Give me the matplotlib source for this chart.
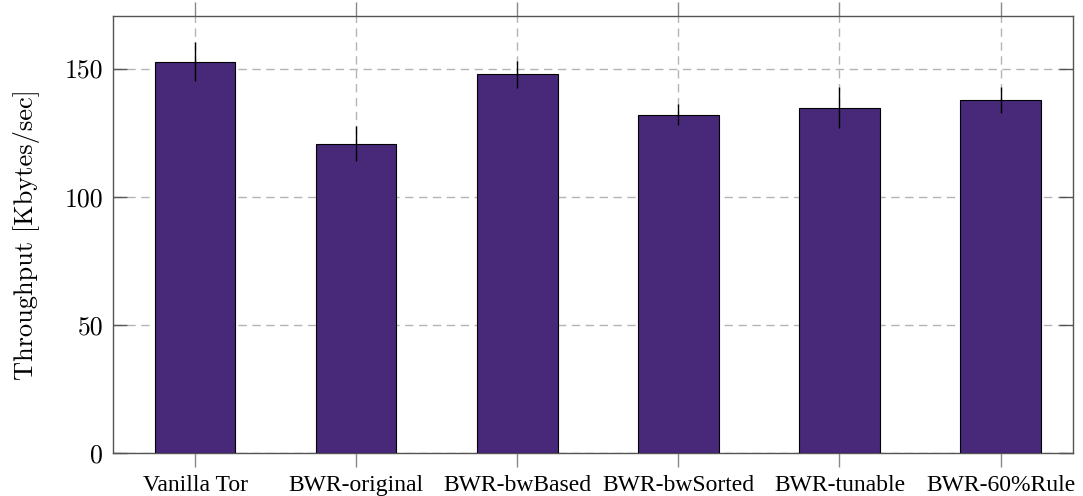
import matplotlib
matplotlib.use("Agg")
import matplotlib.pyplot as plt
import numpy as np

# Mean throughput per configuration with standard-deviation error bars
categories = ["Vanilla Tor", "BWR-original", "BWR-bwBased",
              "BWR-bwSorted", "BWR-tunable", "BWR-60%Rule"]
throughput = [152.7, 120.6, 147.8, 132.0, 134.8, 137.8]
errors = [7.7, 6.8, 5.2, 4.0, 8.0, 5.0]
yticks = [0, 50, 100, 150]

bar_color = "#482878"
grid_color = "#b4b4b4"
spine_color = "#555555"

fig = plt.figure(figsize=(10.83, 4.96), dpi=100)
ax = fig.add_axes([0.1043, 0.0867, 0.8865, 0.881])

x = np.arange(len(categories))
ax.bar(x, throughput, width=0.5, color=bar_color, edgecolor="black",
       linewidth=0.8, zorder=3)
ax.errorbar(x, throughput, yerr=errors, fmt="none", ecolor="black",
            elinewidth=1.0, capsize=0, zorder=4)

ax.set_xlim(-0.51, 5.45)
ax.set_ylim(0, 170.5)
ax.set_yticks(yticks)
ax.set_yticklabels([str(v) for v in yticks], family="cmr10", fontsize=18.5)
ax.set_xticks(x)
ax.set_xticklabels(categories, family="Liberation Serif", fontsize=17)

ax.set_ylabel("Throughput [Kbytes/sec]", family="cmr10", fontsize=19,
              labelpad=18)

ax.grid(True, color=grid_color, linestyle=(0, (6, 4)), linewidth=1.0,
        zorder=0)
ax.set_axisbelow(True)

ax.tick_params(axis="x", direction="out", length=10, color="#888888",
               top=True, bottom=True, pad=6, width=1.0)
ax.tick_params(axis="y", direction="in", length=10, color=spine_color,
               left=True, right=True, pad=7, width=1.0)

for s in ax.spines.values():
    s.set_color(spine_color)
    s.set_linewidth(1.0)

fig.savefig("out.png", dpi=100)
